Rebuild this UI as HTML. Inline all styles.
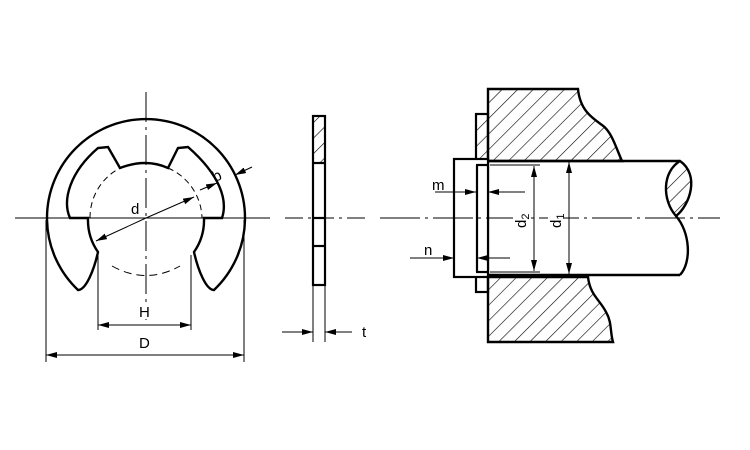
<!DOCTYPE html>
<html><head><meta charset="utf-8"><style>
html,body{margin:0;padding:0;background:#fff;}
svg{display:block;}
text{font-family:"Liberation Sans",sans-serif;fill:#000;}
</style></head><body>
<svg width="750" height="450" viewBox="0 0 750 450" xmlns="http://www.w3.org/2000/svg">
<defs>
<pattern id="h" width="11" height="11" patternUnits="userSpaceOnUse" patternTransform="rotate(45)">
<line x1="0" y1="0" x2="0" y2="11" stroke="#000" stroke-width="1.2"/>
</pattern>
<marker id="a" markerWidth="11" markerHeight="6" refX="11" refY="3" orient="auto" markerUnits="userSpaceOnUse">
<path d="M0,0 L11,3 L0,6 z" fill="#000"/>
</marker>
</defs>
<g stroke="#000" fill="none">
<!-- E ring -->
<path d="M78,290 A99,99 0 1 1 214,290 C206,290 198,270 194,252 A56,56 0 0 0 204,218 L222,218 C228,200 220,175 188,147 L178,148 L168,168 Q146,158 120,168 L108,147 L98,148 C70,172 62,200 70,218 L88,218 A56,56 0 0 0 98,252 C94,270 86,290 78,290 Z" stroke-width="2.4"/>
<path d="M90,218 A56,56 0 0 1 120,168" stroke-width="1" stroke-dasharray="6,4"/>
<path d="M168,168 A56,56 0 0 1 202,218" stroke-width="1" stroke-dasharray="6,4"/>
<path d="M112,266 Q146,285 180,266" stroke-width="1" stroke-dasharray="8,5"/>
<line x1="146" y1="218" x2="96" y2="241" stroke-width="1" marker-end="url(#a)"/>
<line x1="146" y1="218" x2="194" y2="197" stroke-width="1" marker-end="url(#a)"/>
<line x1="200" y1="190" x2="217" y2="183" stroke-width="1" marker-end="url(#a)"/>
<line x1="252" y1="167" x2="235" y2="175" stroke-width="1" marker-end="url(#a)"/>
<line x1="98" y1="255" x2="98" y2="330" stroke-width="1"/>
<line x1="191" y1="255" x2="191" y2="330" stroke-width="1"/>
<line x1="146" y1="325" x2="98" y2="325" stroke-width="1" marker-end="url(#a)"/>
<line x1="146" y1="325" x2="191" y2="325" stroke-width="1" marker-end="url(#a)"/>
<line x1="46" y1="220" x2="46" y2="362" stroke-width="1"/>
<line x1="244" y1="220" x2="244" y2="362" stroke-width="1"/>
<line x1="146" y1="355" x2="46" y2="355" stroke-width="1" marker-end="url(#a)"/>
<line x1="146" y1="355" x2="244" y2="355" stroke-width="1" marker-end="url(#a)"/>

<!-- side view -->
<rect x="313" y="116" width="12" height="47" fill="url(#h)" stroke="none"/>
<rect x="313" y="116" width="12" height="169" stroke-width="2.2" fill="none"/>
<line x1="313" y1="163" x2="325" y2="163" stroke-width="2.2"/>
<line x1="313" y1="218" x2="325" y2="218" stroke-width="2.2"/>
<line x1="313" y1="246" x2="325" y2="246" stroke-width="2.2"/>
<line x1="313" y1="285" x2="313" y2="342" stroke-width="1"/>
<line x1="325" y1="285" x2="325" y2="342" stroke-width="1"/>
<line x1="282" y1="332" x2="313" y2="332" stroke-width="1" marker-end="url(#a)"/>
<line x1="352" y1="332" x2="325" y2="332" stroke-width="1" marker-end="url(#a)"/>

<!-- housing -->
<path d="M488,89 L578,89 C580,110 592,118 602,125 C612,132 616,148 622,161 L488,161 Z" fill="url(#h)" stroke-width="2.4"/>
<path d="M488,277 L588,277 C590,295 600,300 606,312 C612,322 610,332 613,342 L488,342 Z" fill="url(#h)" stroke-width="2.4"/>
<rect x="476" y="114" width="12" height="49" fill="url(#h)" stroke="none"/>
<rect x="476" y="114" width="12" height="178" fill="none" stroke-width="2.2"/>
<path d="M488,161 L680,161 M488,275 L680,275" stroke-width="2.4"/>
<path d="M680,161 C700,175 690,205 676,216 C662,200 662,172 680,161 Z" fill="url(#h)" stroke-width="2.4"/>
<path d="M676,216 C690,232 692,262 680,275" stroke-width="2.4"/>
<rect x="454" y="159" width="34" height="118" fill="#fff" stroke-width="2.2"/>
<line x1="477" y1="165" x2="477" y2="272" stroke-width="2.2"/>
<line x1="476" y1="165" x2="488" y2="165" stroke-width="2.2"/>
<line x1="476" y1="272" x2="488" y2="272" stroke-width="2.2"/>
<line x1="490" y1="165" x2="540" y2="165" stroke-width="1"/>
<line x1="490" y1="272" x2="540" y2="272" stroke-width="1"/>
<line x1="534" y1="218" x2="534" y2="166" stroke-width="1" marker-end="url(#a)"/>
<line x1="534" y1="218" x2="534" y2="271" stroke-width="1" marker-end="url(#a)"/>
<line x1="569" y1="218" x2="569" y2="162" stroke-width="1" marker-end="url(#a)"/>
<line x1="569" y1="218" x2="569" y2="274" stroke-width="1" marker-end="url(#a)"/>
<line x1="435" y1="192" x2="476" y2="192" stroke-width="1" marker-end="url(#a)"/>
<line x1="525" y1="192" x2="488" y2="192" stroke-width="1" marker-end="url(#a)"/>
<line x1="410" y1="258" x2="454" y2="258" stroke-width="1" marker-end="url(#a)"/>
<line x1="510" y1="258" x2="477" y2="258" stroke-width="1" marker-end="url(#a)"/>

<!-- center lines on top -->
<line x1="15" y1="218" x2="270" y2="218" stroke-width="1"/>
<line x1="285" y1="218" x2="365" y2="218" stroke-width="1" stroke-dasharray="18,5,3,5"/>
<line x1="380" y1="218" x2="720" y2="218" stroke-width="1" stroke-dasharray="40,5,3,5"/>
<line x1="146" y1="92" x2="146" y2="320" stroke-width="1" stroke-dasharray="30,5,3,5"/>
</g>
<g font-size="15">
<rect x="130" y="200" width="12" height="16" fill="#fff"/>
<text x="131" y="214">d</text>
<text x="213" y="180" transform="rotate(-25 219 176)">b</text>
<rect x="138" y="303" width="14" height="16" fill="#fff"/>
<text x="139" y="317">H</text>
<text x="139" y="348">D</text>
<text x="362" y="337">t</text>
<text x="432" y="190">m</text>
<text x="424" y="255">n</text>
<rect x="513" y="200" width="16" height="30" fill="#fff"/>
<rect x="548" y="200" width="16" height="30" fill="#fff"/>
<text x="0" y="0" transform="translate(526,228) rotate(-90)">d<tspan font-size="11" dy="3">2</tspan></text>
<text x="0" y="0" transform="translate(561,228) rotate(-90)">d<tspan font-size="11" dy="3">1</tspan></text>
</g>
</svg>
</body></html>
